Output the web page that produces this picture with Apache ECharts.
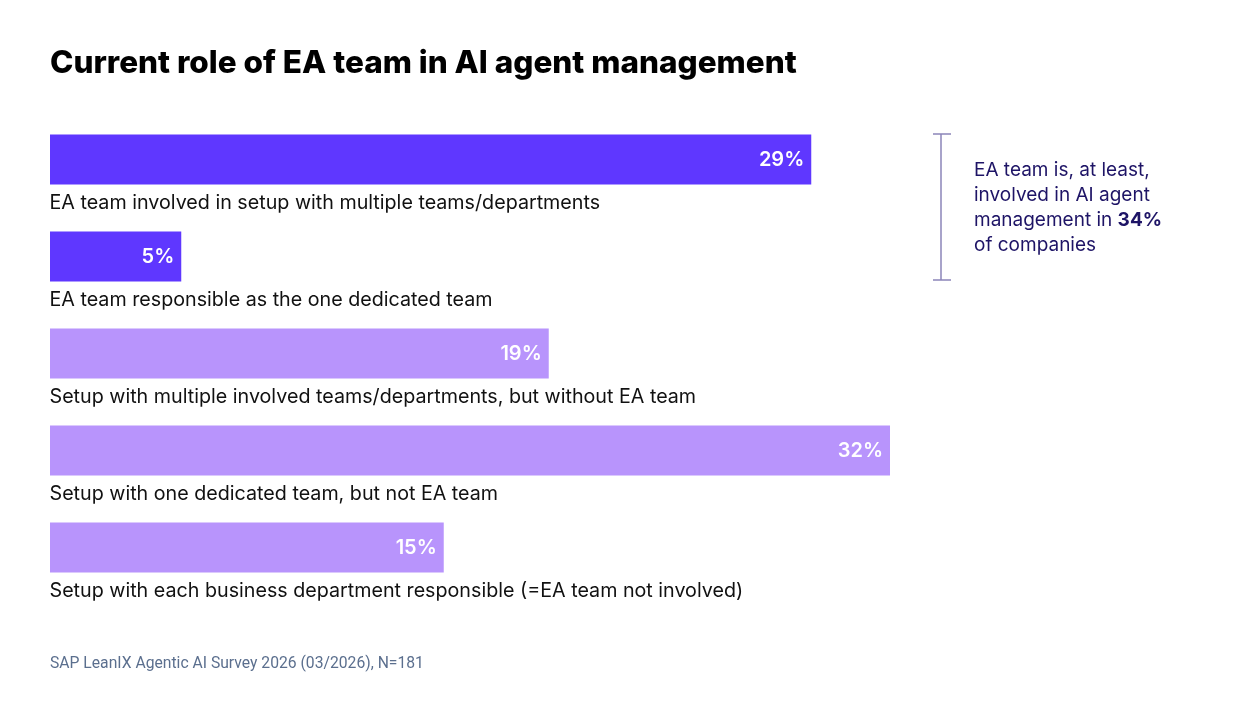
<!DOCTYPE html>
<html>
<head>
<meta charset="utf-8">
<script src="https://cdn.jsdelivr.net/npm/echarts@6/dist/echarts.min.js"></script>
<style>
  html, body { margin: 0; padding: 0; background: #fff; }
  #chart { width: 1240px; height: 720px; }
</style>
</head>
<body>
<div id="chart"></div>
<script>
var categories = [
  'EA team involved in setup with multiple teams/departments',
  'EA team responsible as the one dedicated team',
  'Setup with multiple involved teams/departments, but without EA team',
  'Setup with one dedicated team, but not EA team',
  'Setup with each business department responsible (=EA team not involved)'
];
var shares = [29, 5, 19, 32, 15];
var eaInvolved = [true, true, false, false, false];
var eaTotal = 34;

var dark = '#5f37ff';
var light = '#b894fc';

var chart = echarts.init(document.getElementById('chart'));

var option = {
  animation: false,
  title: {
    text: 'Current role of EA team in AI agent management',
    left: 45,
    top: 43,
    textStyle: {
      fontFamily: 'Inter',
      fontWeight: 800,
      fontSize: 31.5,
      color: '#000'
    }
  },
  grid: { left: 50, top: 111, width: 1050, height: 485 },
  xAxis: {
    type: 'value',
    min: 0,
    max: 40,
    show: false
  },
  yAxis: {
    type: 'category',
    data: categories,
    inverse: true,
    axisLine: { show: false },
    axisTick: { show: false },
    axisLabel: { show: false }
  },
  series: [
    {
      type: 'bar',
      barWidth: 50,
      data: shares.map(function (v, i) {
        return { value: v, itemStyle: { color: eaInvolved[i] ? dark : light } };
      }),
      label: {
        show: true,
        position: 'insideRight',
        distance: 7,
        formatter: '{c}%',
        color: '#fff',
        fontFamily: 'Inter',
        fontWeight: 600,
        fontSize: 20
      }
    },
    {
      // category names, written under each bar
      type: 'scatter',
      symbolSize: 1,
      itemStyle: { color: 'rgba(0,0,0,0)', opacity: 1 },
      silent: true,
      clip: false,
      data: categories.map(function (c) {
        return { value: [0, c], name: c };
      }),
      label: {
        show: true,
        position: 'right',
        distance: 0,
        formatter: '{b}',
        fontFamily: 'Inter',
        fontSize: 19.7,
        color: '#111'
      },
      labelLayout: { hideOverlap: false, dx: -1, dy: 44 }
    }
  ],
  graphic: [
    {
      type: 'group',
      children: [
        { type: 'line', shape: { x1: 941, y1: 134, x2: 941, y2: 280 }, style: { stroke: '#8b84b8', lineWidth: 1.5 } },
        { type: 'line', shape: { x1: 933, y1: 134, x2: 951, y2: 134 }, style: { stroke: '#8b84b8', lineWidth: 1.5 } },
        { type: 'line', shape: { x1: 933, y1: 280, x2: 951, y2: 280 }, style: { stroke: '#8b84b8', lineWidth: 1.5 } }
      ]
    },
    {
      type: 'text',
      left: 974,
      top: 158,
      style: {
        text: 'EA team is, at least,\ninvolved in AI agent\nmanagement in {b|' + eaTotal + '%}\nof companies',
        fontFamily: 'Inter',
        fontSize: 19,
        lineHeight: 25,
        fill: '#1e1466',
        rich: {
          b: { fontFamily: 'Inter', fontSize: 19, fontWeight: 700, fill: '#1e1466' }
        }
      }
    },
    {
      type: 'text',
      left: 50,
      top: 656,
      style: {
        text: 'SAP LeanIX Agentic AI Survey 2026 (03/2026), N=181',
        fontFamily: 'Roboto',
        fontSize: 15.7,
        fill: '#5b6f8e'
      }
    }
  ]
};

chart.setOption(option);
</script>
</body>
</html>
